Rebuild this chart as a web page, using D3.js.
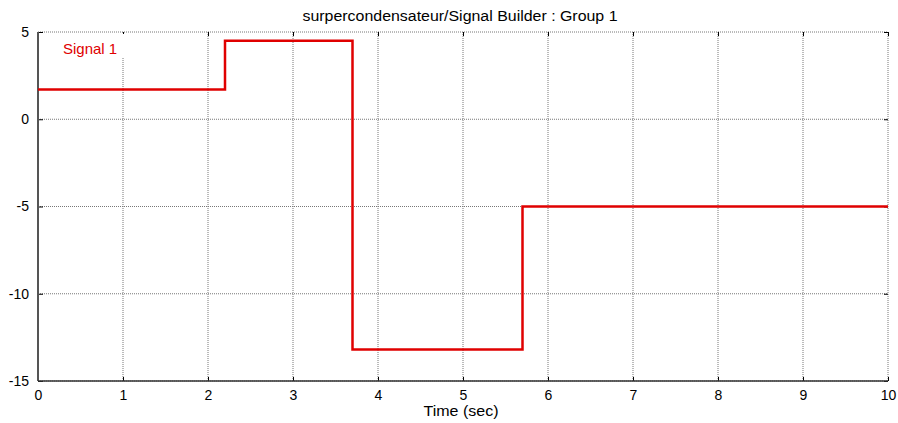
<!DOCTYPE html>
<html lang="en">
<head>
<meta charset="UTF-8">
<title>Signal Builder</title>
<script src="https://d3js.org/d3.v7.min.js"></script>
<style>
  body { margin: 0; background: #fff; }
  text { font-family: Arial, "Liberation Sans", sans-serif; }
  .grid line { stroke: #777; stroke-dasharray: 1,1; stroke-width: 1; }
  .axis text { font-size: 14px; fill: #000; }
  .axis .domain { display: none; }
  .axis line { stroke: #000; }
</style>
</head>
<body>
<div id="chart"></div>
<script>
// signal data (step changes)
var times = [0, 2.2, 3.7, 5.7, 10];
var values = [1.7, 4.5, -13.2, -5, -5];
var xTicks = [0, 1, 2, 3, 4, 5, 6, 7, 8, 9, 10];
var yTicks = [5, 0, -5, -10, -15];
var chartTitle = "surpercondensateur/Signal Builder : Group 1";
var xLabel = "Time (sec)";
var signalName = "Signal 1";

var W = 898, H = 423;
var margin = {top: 32, right: 10, bottom: 42, left: 38};
var width = 888 - margin.left,
    height = 381 - margin.top;

// plain hyphen for negatives, like the original
var fmt = function(d) { return String(d); };

var svg = d3.select("#chart").append("svg")
    .attr("width", W)
    .attr("height", H);

var g = svg.append("g")
    .attr("transform", "translate(" + margin.left + "," + margin.top + ")");

var x = d3.scaleLinear().domain([0, 10]).range([0, width]);
var y = d3.scaleLinear().domain([-15, 5]).range([height, 0]);

// grid
g.append("g").attr("class", "grid")
  .selectAll("line").data(xTicks).enter().append("line")
    .attr("x1", function(d) { return x(d); })
    .attr("x2", function(d) { return x(d); })
    .attr("y1", 0).attr("y2", height);
g.append("g").attr("class", "grid")
  .selectAll("line").data(yTicks).enter().append("line")
    .attr("y1", function(d) { return y(d); })
    .attr("y2", function(d) { return y(d); })
    .attr("x1", 0).attr("x2", width);

// ticks + labels
g.append("g").attr("class", "axis")
    .attr("transform", "translate(0," + height + ")")
    .call(d3.axisBottom(x).tickValues(xTicks).tickSizeInner(-4).tickSizeOuter(0).tickPadding(9).tickFormat(fmt));
g.append("g").attr("class", "axis")
    .call(d3.axisTop(x).tickValues(xTicks).tickSizeInner(-4).tickSizeOuter(0).tickFormat(""));
g.append("g").attr("class", "axis")
    .call(d3.axisLeft(y).tickValues(yTicks).tickSizeInner(-5).tickSizeOuter(0).tickPadding(9).tickFormat(fmt));
g.append("g").attr("class", "axis")
    .attr("transform", "translate(" + width + ",0)")
    .call(d3.axisRight(y).tickValues(yTicks).tickSizeInner(-4).tickSizeOuter(0).tickFormat(""));

// axis lines (left and bottom solid)
g.append("line")
    .attr("x1", 0).attr("x2", 0).attr("y1", 0).attr("y2", height)
    .attr("stroke", "#555").attr("stroke-width", 2);
g.append("line")
    .attr("x1", 0).attr("x2", width).attr("y1", height).attr("y2", height)
    .attr("stroke", "#333").attr("stroke-width", 1.5);

// legend box
var legend = g.append("g");
legend.append("rect")
    .attr("x", 2).attr("y", 2).attr("width", 84).attr("height", 24)
    .attr("fill", "#fff");
legend.append("text")
    .attr("x", 25).attr("y", 22)
    .attr("font-size", 15)
    .attr("fill", "#e00000")
    .text(signalName);

// signal
var pts = times.map(function(t, i) { return [t, values[i]]; });
var line = d3.line()
    .x(function(d) { return x(d[0]); })
    .y(function(d) { return y(d[1]); })
    .curve(d3.curveStepAfter);
g.append("path")
    .datum(pts)
    .attr("fill", "none")
    .attr("stroke", "#e00000")
    .attr("stroke-width", 2.5)
    .attr("d", line);

// title and x label (original text is slightly stretched horizontally)
svg.append("text")
    .attr("x", 460).attr("y", 21)
    .attr("text-anchor", "middle")
    .attr("font-size", 14)
    .attr("textLength", 315)
    .attr("lengthAdjust", "spacingAndGlyphs")
    .text(chartTitle);
svg.append("text")
    .attr("x", 461).attr("y", 416)
    .attr("text-anchor", "middle")
    .attr("font-size", 15)
    .attr("textLength", 75)
    .attr("lengthAdjust", "spacingAndGlyphs")
    .text(xLabel);
</script>
</body>
</html>
